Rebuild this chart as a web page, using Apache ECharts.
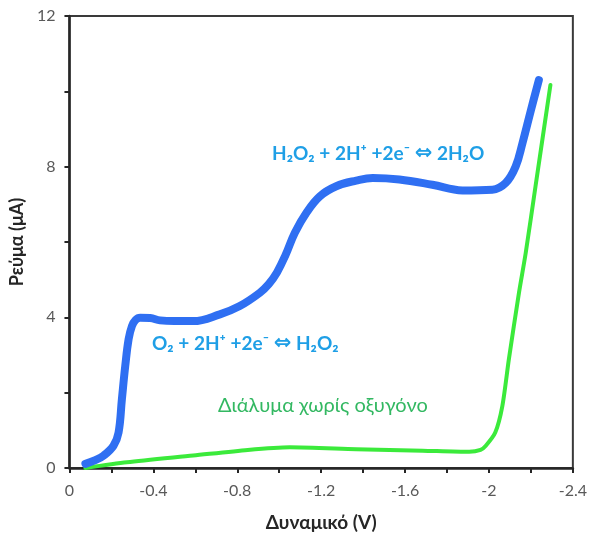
<!DOCTYPE html>
<html>
<head>
<meta charset="utf-8">
<script src="https://cdn.jsdelivr.net/npm/echarts@6/dist/echarts.min.js"></script>
<style>
html,body{margin:0;padding:0;background:#fff;}
#chart{width:590px;height:537px;}
</style>
</head>
<body>
<div id="chart"></div>
<script>
// Potential (V) and current (µA)
const oxygenCurve = [
  [-0.076,0.11],[-0.12,0.2],[-0.163,0.33],[-0.21,0.59],[-0.234,0.94],[-0.25,1.83],
  [-0.266,2.71],[-0.282,3.42],[-0.298,3.77],[-0.315,3.93],[-0.337,3.99],[-0.385,3.98],
  [-0.432,3.92],[-0.5,3.9],[-0.59,3.9],[-0.717,4.08],[-0.812,4.3],[-0.907,4.65],
  [-0.95,4.88],[-0.99,5.2],[-1.03,5.65],[-1.074,6.24],[-1.129,6.77],[-1.193,7.21],
  [-1.272,7.48],[-1.367,7.63],[-1.446,7.70],[-1.573,7.66],[-1.73,7.52],[-1.874,7.37],
  [-2.016,7.39],[-2.08,7.57],[-2.127,8.0],[-2.16,8.63],[-2.2,9.5],[-2.238,10.3]
];
const noOxygenCurve = [
  [-0.076,0.0],[-0.274,0.15],[-0.59,0.33],[-0.85,0.48],[-1.05,0.55],[-1.367,0.50],
  [-1.684,0.46],[-1.906,0.43],[-1.96,0.48],[-1.985,0.59],[-2.03,0.94],[-2.064,1.65],
  [-2.095,2.89],[-2.143,4.65],[-2.175,5.7],[-2.222,7.48],[-2.293,10.17]
];
const xTicks = {min:-2.4, max:0, interval:0.4};
const yTicks = {min:0, max:12, interval:4};
const xTitle = 'Δυναμικό (V)';
const yTitle = 'Ρεύμα (μA)';
const label1 = ['H₂O₂ + 2H⁺ +2e⁻ ', '⇔', ' 2H₂O'];
const label2 = ['O₂ + 2H⁺ +2e⁻ ', '⇔', ' H₂O₂'];
const label3 = 'Διάλυμα χωρίς οξυγόνο';

const FONT = 'Lato, "Open Sans", "Noto Sans", sans-serif';
const ARROW_FONT = '"DejaVu Sans", "Noto Sans", sans-serif';
function eq(parts){ return parts[0] + '{a|' + parts[1] + '}' + parts[2]; }
const eqRich = {a:{fontFamily:ARROW_FONT,fontSize:21,fontWeight:'bold',fill:'#1f9fe6',color:'#1f9fe6'}};

const chart = echarts.init(document.getElementById('chart'), null, {renderer:'canvas'});
chart.setOption({
  animation:false,
  backgroundColor:'#ffffff',
  grid:{left:69,right:16,top:16,bottom:68,show:true,borderColor:'#3a3a3a',borderWidth:2,backgroundColor:'transparent'},
  xAxis:{
    type:'value', inverse:true, min:xTicks.min, max:xTicks.max, interval:xTicks.interval,
    name:xTitle, nameLocation:'middle', nameGap:45,
    nameTextStyle:{fontFamily:FONT,fontSize:19,fontWeight:'bold',color:'#262626'},
    axisLine:{show:true,onZero:false,lineStyle:{color:'#262626',width:2.5}},
    axisTick:{show:true,length:5,lineStyle:{color:'#262626',width:2}},
    minorTick:{show:true,splitNumber:2,length:5,lineStyle:{color:'#262626',width:2}},
    axisLabel:{fontFamily:FONT,fontSize:16,color:'#595959',margin:15},
    splitLine:{show:false}
  },
  yAxis:{
    type:'value', min:yTicks.min, max:yTicks.max, interval:yTicks.interval,
    name:yTitle, nameLocation:'middle', nameGap:36, nameRotate:90,
    nameTextStyle:{fontFamily:FONT,fontSize:18,fontWeight:'bold',color:'#262626'},
    axisLine:{show:true,onZero:false,lineStyle:{color:'#262626',width:2.5}},
    axisTick:{show:true,length:5,lineStyle:{color:'#262626',width:2}},
    minorTick:{show:true,splitNumber:2,length:5,lineStyle:{color:'#262626',width:2}},
    axisLabel:{fontFamily:FONT,fontSize:16,color:'#595959',margin:14},
    splitLine:{show:false}
  },
  series:[
    {type:'line',data:noOxygenCurve,showSymbol:false,smooth:0.25,
     lineStyle:{color:'#3bea3b',width:4,cap:'round',join:'round'},z:2},
    {type:'line',data:oxygenCurve,showSymbol:false,smooth:0.4,
     lineStyle:{color:'#2f6ff2',width:8,cap:'round',join:'round'},z:3}
  ],
  graphic:[
    {type:'text',left:272,top:143,style:{text:eq(label1),font:'bold 19px '+FONT,fill:'#1f9fe6',rich:eqRich}},
    {type:'text',left:152,top:333,style:{text:eq(label2),font:'bold 19px '+FONT,fill:'#1f9fe6',rich:eqRich}},
    {type:'text',left:218,top:396,style:{text:label3,font:'20px '+FONT,fill:'#33b862'}}
  ]
});
</script>
</body>
</html>
